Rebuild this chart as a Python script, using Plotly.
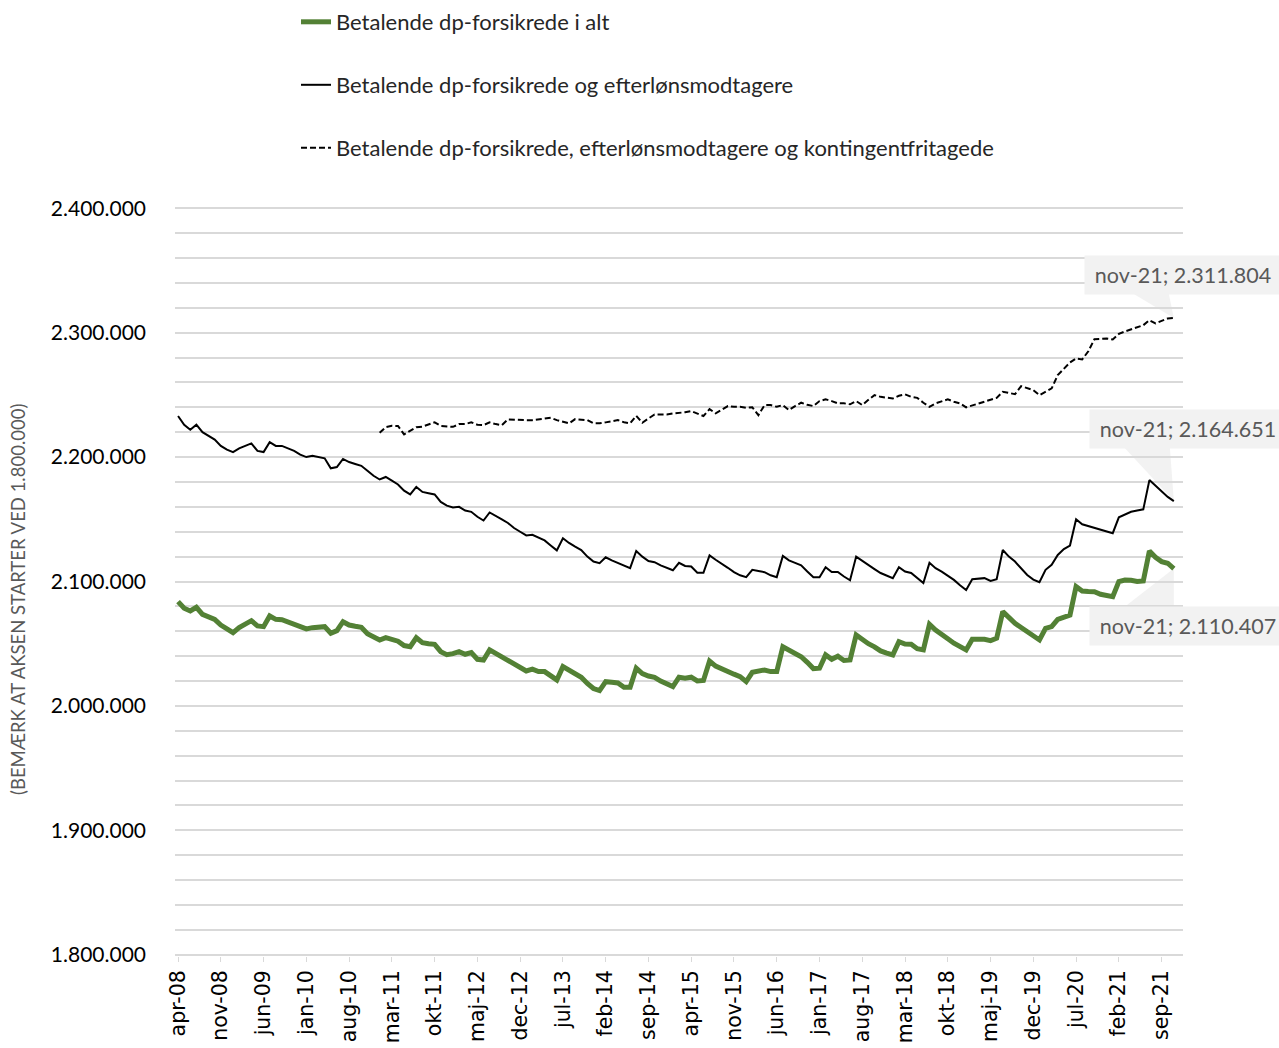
import plotly.graph_objects as go

# ---------------- data ----------------
month_names = ["jan", "feb", "mar", "apr", "maj", "jun", "jul", "aug", "sep", "okt", "nov", "dec"]
start_year, start_month = 2008, 4      # apr-08
n_months = 164                         # apr-08 .. nov-21
categories = []
for k in range(n_months):
    m = (start_month - 1 + k) % 12
    yr = start_year + (start_month - 1 + k) // 12
    categories.append(f"{month_names[m]}-{yr % 100:02d}")

tick_labels = categories[::7]

series_names = [
    "Betalende dp-forsikrede i alt",
    "Betalende dp-forsikrede og efterlønsmodtagere",
    "Betalende dp-forsikrede, efterlønsmodtagere og kontingentfritagede",
]

dp_i_alt = [
    2083800, 2078500, 2076300, 2079300, 2073600, 2071500, 2069600, 2065000, 2062000, 2058900,
    2062900, 2065500, 2068500, 2064300, 2063700, 2072300, 2069600, 2069300, 2067500, 2065600,
    2063500, 2061900, 2062900, 2063300, 2063700, 2058400, 2060500, 2067700, 2065000, 2064000,
    2063200, 2058000, 2055000, 2053000, 2054900, 2053300, 2052000, 2048500, 2047600, 2054800,
    2050900, 2050000, 2049500, 2043600, 2041200, 2042000, 2043600, 2041500, 2042800, 2037500,
    2036900, 2045000, 2042000, 2039500, 2036500, 2033000, 2030500, 2028100, 2029500, 2027600,
    2027600, 2024000, 2020900, 2031600, 2028500, 2026000, 2023000, 2018000, 2014000, 2012300,
    2019500, 2019000, 2018500, 2015000, 2015000, 2030300, 2026000, 2024000, 2023000, 2020000,
    2017500, 2015500, 2023100, 2022300, 2023100, 2020100, 2020500, 2036100, 2032000, 2029500,
    2028100, 2025500, 2023500, 2019500, 2027000, 2028000, 2028900, 2027600, 2027600, 2047600,
    2045000, 2041500, 2039500, 2035000, 2030000, 2030300, 2041000, 2037500, 2040000, 2036500,
    2036900, 2057000, 2053000, 2050000, 2047500, 2044200, 2042500, 2041000, 2051700, 2049800,
    2049600, 2046000, 2045000, 2065600, 2061000, 2057000, 2054000, 2050400, 2048000, 2045000,
    2053600, 2053600, 2053600, 2052500, 2054400, 2075800, 2071000, 2066400, 2063000, 2059700,
    2056000, 2053000, 2062400, 2063700, 2069600, 2071000, 2073000, 2095900, 2092400, 2092000,
    2091800, 2089700, 2088500, 2087800, 2099900, 2101200, 2101000, 2100000, 2100500, 2124500,
    2119500, 2116000, 2114700, 2110407,
]

dp_og_efterloen = [
    2233000, 2226000, 2222000, 2226000, 2220000, 2217000, 2214000, 2209000, 2206000, 2204000,
    2207000, 2209000, 2211000, 2205000, 2204000, 2212000, 2209000, 2209000, 2207000, 2205000,
    2202000, 2200000, 2201000, 2200000, 2199000, 2191000, 2192000, 2198500, 2196000, 2194500,
    2193000, 2189000, 2185000, 2182000, 2184000, 2181000, 2178000, 2173000, 2170000, 2176000,
    2172000, 2171000, 2170000, 2164000, 2161000, 2159500, 2160000, 2157000, 2156000, 2152000,
    2149000, 2155500, 2153000, 2150000, 2147000, 2143000, 2140000, 2137000, 2137500, 2135000,
    2133000, 2129000, 2125000, 2134800, 2131000, 2128000, 2125300, 2120000, 2116000, 2114700,
    2119500, 2117000, 2115000, 2113000, 2110700, 2124500, 2120000, 2116500, 2115500, 2113000,
    2111000, 2109000, 2115000, 2112500, 2112000, 2107000, 2107000, 2121000, 2117500, 2114500,
    2111000, 2107500, 2105000, 2103500, 2109400, 2108500, 2107500, 2105000, 2103500, 2120500,
    2117000, 2115000, 2113000, 2108000, 2103500, 2103500, 2111500, 2107700, 2107700, 2104000,
    2101000, 2120000, 2116500, 2113500, 2110000, 2106800, 2104500, 2102700, 2111500, 2108000,
    2106800, 2102700, 2098700, 2115000, 2110700, 2108000, 2105000, 2101300, 2097000, 2093200,
    2101800, 2102200, 2102700, 2100500, 2101800, 2125300, 2120000, 2116000, 2110500, 2105200,
    2101500, 2099500, 2109400, 2113400, 2121300, 2126000, 2128900, 2150000, 2146000, 2144500,
    2143000, 2141400, 2140000, 2138800, 2151600, 2154000, 2156000, 2157000, 2158000, 2181500,
    2177000, 2172000, 2168000, 2164651,
]

# third series starts in jan-11
kontingent_start = "jan-11"
dp_efterloen_kontingent = [
    2219500, 2224000, 2225100, 2225000, 2218200, 2221000, 2224000,
    2224500, 2226500, 2227900, 2225100, 2224500, 2224300, 2226500, 2226500, 2227900, 2226000,
    2225700, 2227900, 2226500, 2225700, 2230300, 2230000, 2229700, 2229700, 2229700, 2230500,
    2230800, 2231600, 2229700, 2228500, 2227100, 2230500, 2230000, 2229700, 2227100, 2227100,
    2227900, 2228500, 2229700, 2228000, 2227100, 2233200, 2227600, 2231000, 2234300, 2234300,
    2234300, 2235100, 2235500, 2236000, 2237000, 2235000, 2233000, 2238500, 2235100, 2238000,
    2241000, 2240400, 2240400, 2239600, 2240000, 2233700, 2241800, 2241800, 2240400, 2241800,
    2237800, 2241000, 2243700, 2242000, 2241000, 2245000, 2246400, 2245000, 2243200, 2243200,
    2242400, 2245000, 2241800, 2246000, 2249800, 2248400, 2247600, 2247100, 2249300, 2250400,
    2248400, 2247600, 2243700, 2240400, 2243200, 2244800, 2246400, 2244500, 2243200, 2240000,
    2241500, 2242600, 2244500, 2245800, 2247600, 2252500, 2251500, 2250600, 2257000, 2255500,
    2253800, 2249800, 2252500, 2255200, 2265900, 2271200, 2276000, 2279300, 2278500, 2285000,
    2294800, 2295000, 2295300, 2294500, 2299000, 2301000, 2302800, 2304500, 2306000, 2310000,
    2307400, 2309500, 2311400, 2311804,
]
kontingent_x = categories[categories.index(kontingent_start):]

y_min, y_max = 1800000, 2400000

# ---------------- figure ----------------
W, H = 1279, 1048
M_L, M_R, M_T, M_B = 175, 96, 207, 92
PLOT_W, PLOT_H = W - M_L - M_R, H - M_T - M_B


def paper_x(px):
    return (px - M_L) / PLOT_W


def paper_y(py):
    return (H - M_B - py) / PLOT_H


GREEN = "#538135"
FONT = "Lato"

fig = go.Figure()
fig.add_trace(go.Scatter(
    x=categories, y=dp_i_alt, mode="lines", name=series_names[0],
    line=dict(color=GREEN, width=5), legend="legend"))
fig.add_trace(go.Scatter(
    x=categories, y=dp_og_efterloen, mode="lines", name=series_names[1],
    line=dict(color="black", width=2), legend="legend2"))
fig.add_trace(go.Scatter(
    x=kontingent_x, y=dp_efterloen_kontingent, mode="lines", name=series_names[2],
    line=dict(color="black", width=2, dash="6px,3px"), legend="legend3"))


def fmt(v):
    return f"{v:,}".replace(",", ".")


# end-point callouts (box offset in px, wedge polygon in px relative to the point)
callouts = [
    (dp_efterloen_kontingent[-1], 9, 43, "M-40,24 L-5,24 L0,0 Z"),
    (dp_og_efterloen[-1], 14, 72, "M-50,54 L-4,54 L0,0 Z"),
    (dp_i_alt[-1], 14, -57, "M-50,-39 L0,-39 L0,0 Z"),
]
last_cat = categories[-1]
for val, xs, ys, wedge in callouts:
    fig.add_shape(type="path", xref="x", yref="y", xsizemode="pixel", ysizemode="pixel",
                  xanchor=last_cat, yanchor=val, path=wedge,
                  fillcolor="#f2f2f2", line=dict(width=0), layer="below")
    fig.add_annotation(x=last_cat, y=val, xref="x", yref="y", showarrow=False,
                       text=f"{last_cat}; {fmt(val)}", xshift=xs, yshift=ys,
                       bgcolor="#f2f2f2", borderpad=6, width=184,
                       font=dict(family=FONT, size=21.5, color="#595959"))

# rotated axis note on the left
fig.add_annotation(xref="paper", yref="paper", x=paper_x(18), y=paper_y(600),
                   xanchor="center", yanchor="middle", showarrow=False, textangle=-90,
                   text="(BEMÆRK AT AKSEN STARTER VED 1.800.000)",
                   font=dict(family=FONT, size=18.5, color="#595959"))

legend_common = dict(xanchor="left", yanchor="middle", bgcolor="rgba(0,0,0,0)",
                     font=dict(family=FONT, size=22, color="#262626"))

# tiny padding so the edge gridlines at 1.800.000 and 2.400.000 are drawn
pad = (y_max - y_min) / 600

fig.update_layout(
    width=W, height=H,
    margin=dict(l=M_L, r=M_R, t=M_T, b=M_B, pad=0, autoexpand=False),
    paper_bgcolor="white", plot_bgcolor="white",
    separators=",.",
    showlegend=True,
    legend=dict(x=paper_x(296), y=paper_y(22), **legend_common),
    legend2=dict(x=paper_x(296), y=paper_y(85), **legend_common),
    legend3=dict(x=paper_x(296), y=paper_y(148), **legend_common),
    xaxis=dict(
        type="category", categoryorder="array", categoryarray=categories,
        range=[-0.5, n_months + 0.5], automargin=False,
        tickmode="array", tickvals=tick_labels, ticktext=tick_labels,
        tickangle=-90, tickfont=dict(family="DejaVu Sans", size=20.5, color="black"),
        ticks="outside", ticklen=5, tickcolor="#d9d9d9",
        showgrid=False, showline=False, zeroline=False,
    ),
    yaxis=dict(
        range=[y_min - pad, y_max + pad], tick0=0, dtick=100000, tickformat=",d",
        automargin=False,
        tickfont=dict(family=FONT, size=21, color="black"),
        showgrid=True, gridcolor="#d9d9d9", gridwidth=1.5,
        minor=dict(dtick=20000, tick0=0, showgrid=True, gridcolor="#d9d9d9", gridwidth=1.5),
        zeroline=False, showline=False,
        ticklabelstandoff=28,
    ),
)

fig.write_html("out.html", config={"displayModeBar": False},
               post_script="document.body.style.margin='0px';")
